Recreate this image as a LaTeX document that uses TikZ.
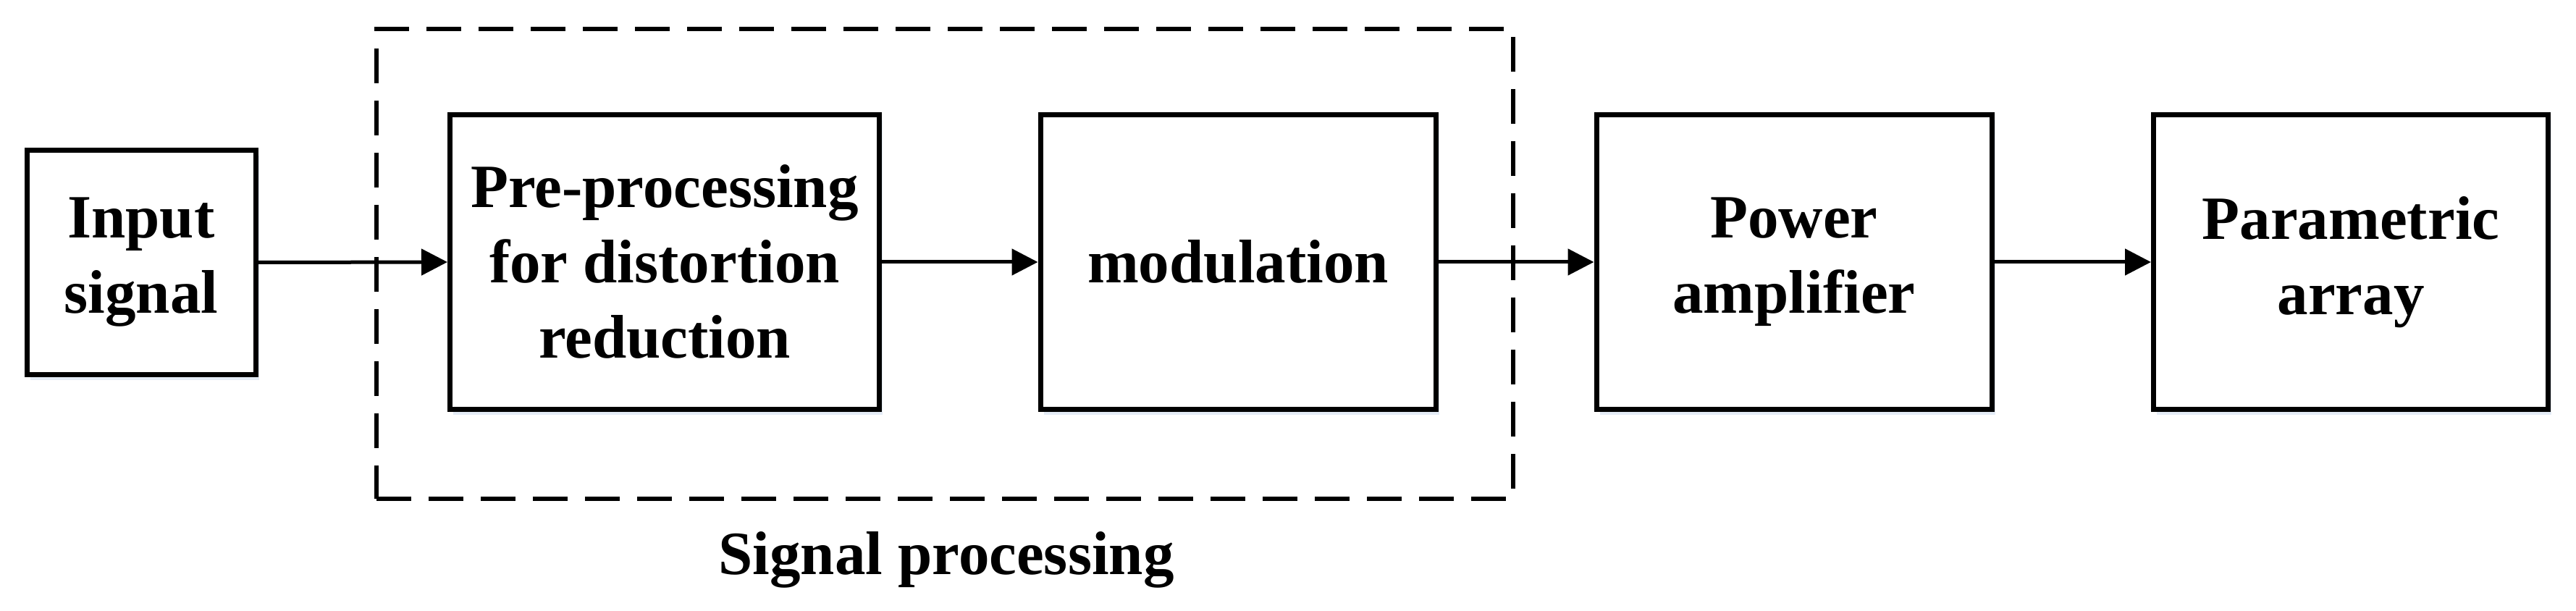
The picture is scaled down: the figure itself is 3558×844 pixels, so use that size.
\documentclass[tikz,border=0pt]{standalone}
\usepackage{fontspec}
\setmainfont{Liberation Serif}
\usetikzlibrary{arrows.meta,shadows}
\definecolor{shade}{HTML}{E4ECF6}
\begin{document}
\begin{tikzpicture}[x=0.25pt,y=-0.25pt,
  txt/.style={font=\bfseries\fontsize{21.25}{26}\selectfont, align=center, inner sep=0pt},
  blk/.style={txt, draw, fill=white, line width=1.75pt, minimum height=101.75pt,
    drop shadow={shadow xshift=1.2pt, shadow yshift=-1.8pt, fill=shade, opacity=1}},
  conn/.style={line width=1.25pt, -{Triangle[length=9pt,width=9pt]}},
  grp/.style={draw, line width=1.4pt, dash pattern=on 12pt off 6pt, minimum width=392.5pt, minimum height=162.25pt, inner sep=0pt}]
\useasboundingbox (0,0) rectangle (3558,844);
\node[grp] (grp) at (1305,364.5) {};
\node[blk, minimum width=79pt, minimum height=77.5pt] (in) at (195,362.5) {Input\\signal};
\node[blk, minimum width=148.25pt] (pre) at (918,362) {Pre-processing\\for distortion\\reduction};
\node[blk, minimum width=136.5pt] (mod) at (1710,362) {modulation};
\node[blk, minimum width=136.5pt] (pa) at (2478,362) {Power\\amplifier};
\node[blk, minimum width=136.25pt] (par) at (3247,362) {Parametric\\array};
\node[txt, anchor=base] (lab) at (1307,794) {Signal processing};
\draw[conn] (in.east) -- (pre.west);
\draw[conn] (pre.east) -- (mod.west);
\draw[conn] (mod.east) -- (pa.west);
\draw[conn] (pa.east) -- (par.west);
\end{tikzpicture}
\end{document}
